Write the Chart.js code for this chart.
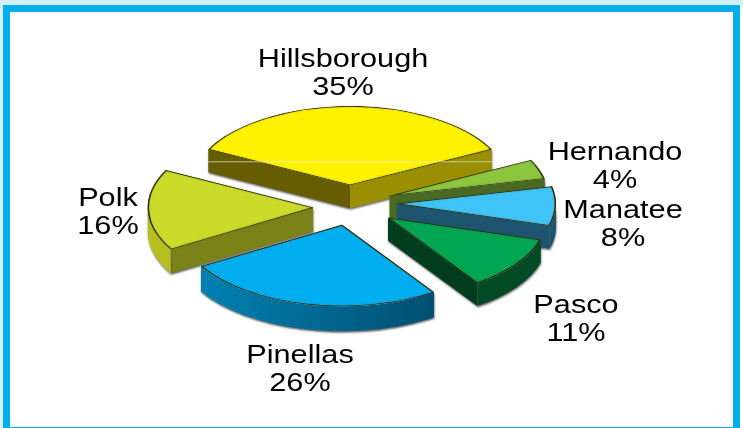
<!DOCTYPE html>
<html>
<head>
<meta charset="utf-8">
<script src="https://cdn.jsdelivr.net/npm/chart.js@4"></script>
<style>
    html, body { margin: 0; padding: 0; background: #fff; overflow: hidden; }
    #wrap { position: absolute; left: 0; top: 0; width: 743px; height: 428px; }
    #strip-top { position: absolute; left: 0; top: 0; width: 743px; height: 5px; background: #d3f1fd; }
    #strip-left { position: absolute; left: 0; top: 0; width: 3px; height: 428px; background: #d3f1fd; }
    #frame {
        position: absolute; left: 3px; top: 5px; width: 723px; height: 415px;
        border: solid #00aeef; border-width: 7px 7px 1px 7px;
    }
    canvas { position: absolute; left: 0; top: 0; }
</style>
</head>
<body>
<div id="wrap">
    <div id="strip-top"></div>
    <div id="strip-left"></div>
    <div id="frame"></div>
    <canvas id="pie" width="743" height="428"></canvas>
</div>
<script>
// County shares, clockwise from Hillsborough
const counties = ['Hillsborough', 'Hernando', 'Manatee', 'Pasco', 'Pinellas', 'Polk'];
const shares = [35, 4, 8, 11, 26, 16];

const topColors = ['#fff200', '#8cc63f', '#40c4f8', '#00a651', '#00aeef', '#cbdb2a'];
const startEdgeColors = ['#665c00', '#4a6a22', '#1d5570', '#003d1e', '#004f72', '#7a8218'];
const endEdgeColors = ['#998f00', '#4a6a22', '#1d5570', '#003d1e', '#004f72', '#7a8218'];
const rimColors = [
    ['#998f00', '#998f00'],
    ['#4a6a22', '#4a6a22'],
    ['#1d5570', '#1d5570'],
    ['#004a26', '#003d1e'],
    ['#0086b8', '#003f5e'],
    ['#b8c020', '#8f9a1c']
];
// per slice look: pull-out in px before squashing, upward nudge, size, wall height
const explode = [44, 42, 47, 47, 37, 37];
const lift = [0, 4, 4, 3, 0, 0];
const sizeUp = [1, 1, 1, 1, 1.03, 1.04];
const depths = [23, 23, 23, 23, 25, 24];

// slice paint order, back to front
const paintOrder = [0, 1, 2, 5, 3, 4];
const labelBoxes = {
    Hillsborough: [343, 60],
    Hernando: [615, 153],
    Manatee: [623, 211],
    Pasco: [576, 306],
    Pinellas: [300, 356],
    Polk: [108, 199]
};

const squash = 0.497;

const pie3d = {
    id: 'pie3d',
    beforeDatasetDraw(chart, args) {
        const ctx = chart.ctx;
        const arcs = args.meta.data;
        paintOrder.forEach(i => {
            const arc = arcs[i];
            const { x, y, startAngle, endAngle, outerRadius } = arc;
            const mid = (startAngle + endAngle) / 2;
            const depth = depths[i];
            const px = x + Math.cos(mid) * explode[i];
            const py = y + Math.sin(mid) * explode[i] * squash - lift[i];
            const rx = outerRadius * sizeUp[i];
            const ry = rx * squash;
            const edgeX = a => px + Math.cos(a) * rx;
            const edgeY = a => py + Math.sin(a) * ry;

            ctx.save();
            ctx.shadowColor = 'rgba(70,70,70,0.8)';
            ctx.shadowBlur = 2;
            ctx.shadowOffsetX = 0.5;
            ctx.shadowOffsetY = 1.5;

            // radial walls that face the viewer
            const wall = (a, color) => {
                ctx.fillStyle = color;
                ctx.beginPath();
                ctx.moveTo(px, py);
                ctx.lineTo(edgeX(a), edgeY(a));
                ctx.lineTo(edgeX(a), edgeY(a) + depth);
                ctx.lineTo(px, py + depth);
                ctx.closePath();
                ctx.fill();
            };
            if (Math.cos(startAngle) < 0) wall(startAngle, startEdgeColors[i]);
            if (Math.cos(endAngle) > 0) wall(endAngle, endEdgeColors[i]);

            // outer rim, only the part on the near side
            let from = startAngle;
            let to = endAngle;
            const tau = Math.PI * 2;
            while (from < 0) { from += tau; to += tau; }
            if (from > Math.PI) { from -= tau; to -= tau; }
            from = Math.max(from, 0);
            to = Math.min(to, Math.PI);
            if (to > from) {
                const grad = ctx.createLinearGradient(edgeX(Math.PI), 0, edgeX(0), 0);
                grad.addColorStop(0, rimColors[i][0]);
                grad.addColorStop(1, rimColors[i][1]);
                ctx.fillStyle = i === 4 || i === 5 ? grad : rimColors[i][0];
                ctx.beginPath();
                ctx.ellipse(px, py, rx, ry, 0, from, to);
                ctx.ellipse(px, py + depth, rx, ry, 0, to, from, true);
                ctx.closePath();
                ctx.fill();
            }
            ctx.restore();

            // top face, moved to its place and squashed
            ctx.save();
            ctx.shadowColor = 'rgba(70,70,70,0.6)';
            ctx.shadowBlur = 1.5;
            ctx.translate(px, py);
            ctx.scale(sizeUp[i], squash * sizeUp[i]);
            ctx.translate(-x, -y);
            arc.draw(ctx);
            ctx.restore();

            // the pale scan line that crosses the back slice in the original
            if (i === 0) {
                ctx.save();
                ctx.strokeStyle = 'rgba(235,235,210,0.7)';
                ctx.lineWidth = 1;
                ctx.beginPath();
                ctx.moveTo(edgeX(startAngle), edgeY(endAngle) + 12.5);
                ctx.lineTo(edgeX(endAngle), edgeY(endAngle) + 12.5);
                ctx.stroke();
                ctx.restore();
            }
        });
        return false;
    },
    afterDraw(chart) {
        const ctx = chart.ctx;
        const stretch = 1.18;
        ctx.save();
        ctx.font = '26px "Liberation Sans", Arial, sans-serif';
        ctx.fillStyle = '#000';
        ctx.textAlign = 'center';
        ctx.textBaseline = 'middle';
        counties.forEach((name, i) => {
            const [lx, ly] = labelBoxes[name];
            ctx.save();
            ctx.translate(lx, ly);
            ctx.scale(stretch, 1);
            ctx.fillText(name, 0, 0);
            ctx.fillText(shares[i] + '%', 0, 28);
            ctx.restore();
        });
        ctx.restore();
    }
};

new Chart(document.getElementById('pie').getContext('2d'), {
    type: 'pie',
    data: {
        labels: counties,
        datasets: [{
            data: shares,
            backgroundColor: topColors,
            borderColor: '#2b2b00',
            borderWidth: 1,
            borderAlign: 'inner',
            radius: 159
        }]
    },
    options: {
        responsive: false,
        animation: false,
        rotation: -63,
        layout: { padding: { left: 0, right: 43, top: 0, bottom: 14 } },
        plugins: { legend: { display: false }, tooltip: { enabled: false } }
    },
    plugins: [pie3d]
});
</script>
</body>
</html>
